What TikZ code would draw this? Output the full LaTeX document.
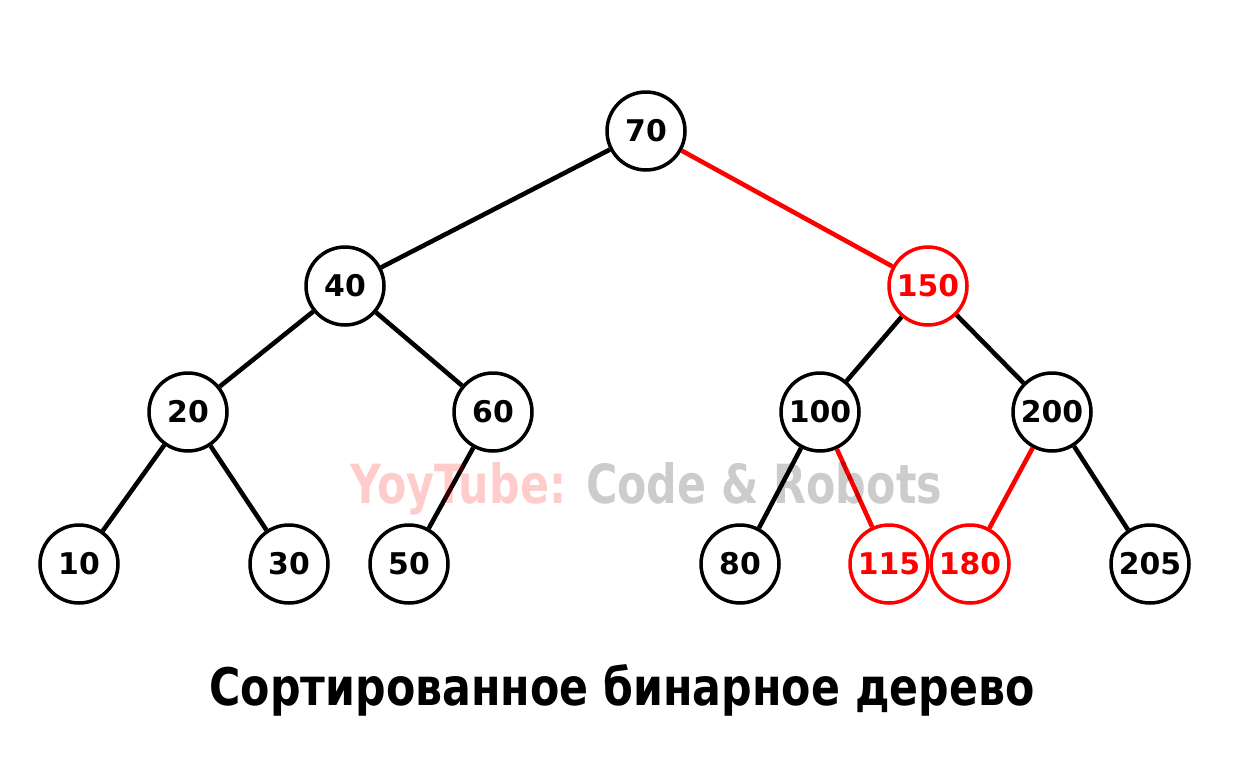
\documentclass[tikz,border=0pt]{standalone}
\usepackage{fontspec}
\setmainfont{DejaVu Sans}
\usetikzlibrary{calc}
\definecolor{red1}{rgb}{1,0,0}

\begin{document}
\begin{tikzpicture}[x=0.02cm,y=-0.02cm,
    vert/.style={circle,draw=black,line width=2pt,fill=white,minimum size=1.56cm,inner sep=0pt,font=\bfseries\fontsize{17}{17}\selectfont},
    hot/.style={vert,draw=red1,text=red1},
    edge/.style={line width=2.6pt,black},
    hotedge/.style={edge,red1}]

    \useasboundingbox (0,0) rectangle (1236,774);

    \node[vert] (n70)  at (646,131) {70};
    \node[vert] (n40)  at (345,286) {40};
    \node[hot]  (n150) at (928,286) {150};
    \node[vert] (n20)  at (188,412) {20};
    \node[vert] (n60)  at (493,412) {60};
    \node[vert] (n100) at (820,412) {100};
    \node[vert] (n200) at (1052,412) {200};
    \node[vert] (n10)  at (79,564) {10};
    \node[vert] (n30)  at (289,564) {30};
    \node[vert] (n50)  at (409,564) {50};
    \node[vert] (n80)  at (740,564) {80};
    \node[hot]  (n115) at (889,564) {115};
    \node[hot]  (n180) at (970,564) {180};
    \node[vert] (n205) at (1150,564) {205};

    \draw[edge] (n70) -- (n40);
    \draw[hotedge] (n70) -- (n150);
    \draw[edge] (n40) -- (n20);
    \draw[edge] (n40) -- (n60);
    \draw[edge] (n150) -- (n100);
    \draw[edge] (n150) -- (n200);
    \draw[edge] (n20) -- (n10);
    \draw[edge] (n20) -- (n30);
    \draw[edge] (n60) -- (n50);
    \draw[edge] (n100) -- (n80);
    \draw[hotedge] (n100) -- (n115);
    \draw[hotedge] (n200) -- (n180);
    \draw[edge] (n200) -- (n205);

    % watermark on top, see-through
    \node[anchor=base,inner sep=0pt,text opacity=0.2] (wm) at (646,503)
      {\resizebox{11.84cm}{0.82cm}{\bfseries\textcolor{red1}{YoyTube:} \textcolor{black}{Code \& Robots}}};

    \node[anchor=base,inner sep=0pt] (title) at (622,705)
      {\resizebox{16.5cm}{0.82cm}{\bfseries Сортированное бинарное дерево}};

  \end{tikzpicture}
\end{document}
